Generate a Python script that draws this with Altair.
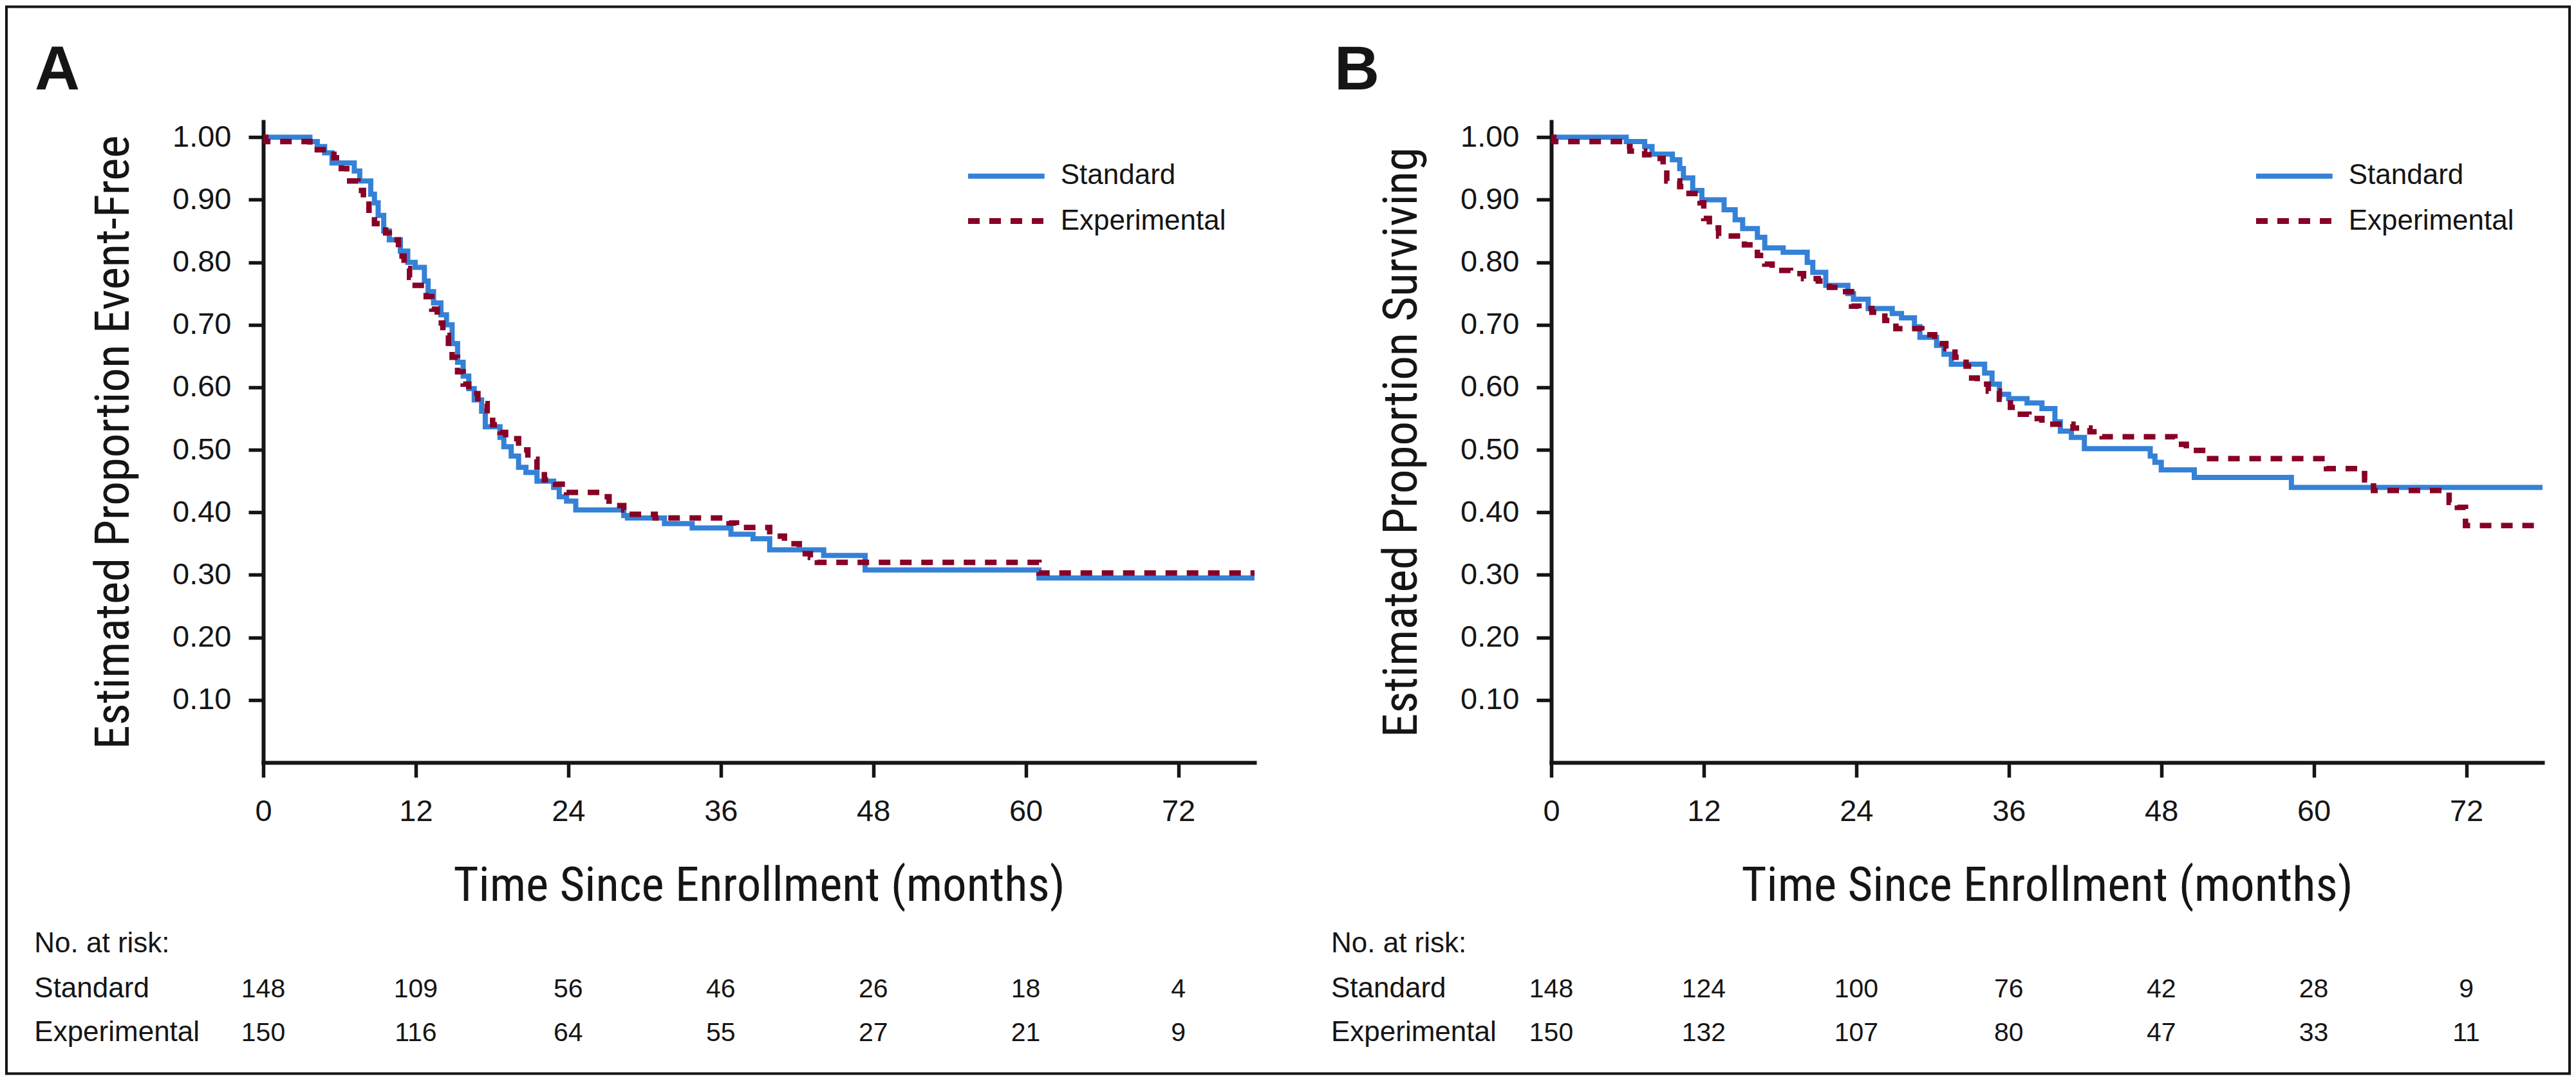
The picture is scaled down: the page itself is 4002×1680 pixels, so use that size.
import altair as alt
import pandas as pd

# ---------------- data ----------------
SERIES = ["Standard", "Experimental"]
MONTH_TICKS = [0, 12, 24, 36, 48, 60, 72]
Y_TICKS = [0.1, 0.2, 0.3, 0.4, 0.5, 0.6, 0.7, 0.8, 0.9, 1.0]
X_TITLE = "Time Since Enrollment (months)"
A_Y_TITLE = "Estimated Proportion Event-Free"
B_Y_TITLE = "Estimated Proportion Surviving"
RISK_HEADER = "No. at risk:"

# Panel A - event-free survival (step points: time in months, proportion)
A_std_t = [0, 3.67, 4.25, 4.83, 5.41, 7.16, 7.59, 8.46, 8.75, 9.04, 9.48, 9.92, 10.79, 11.37,
           11.95, 12.68, 12.97, 13.40, 13.98, 14.42, 14.86, 15.29, 15.73, 16.17, 16.60, 17.18,
           17.47, 18.63, 18.93, 19.51, 20.09, 20.67, 21.54, 22.85, 23.29, 23.87, 24.59, 28.37,
           28.66, 31.57, 33.75, 36.80, 38.54, 39.85, 44.10, 47.36, 61.04, 78]
A_std_s = [1.000, 0.993, 0.985, 0.975, 0.959, 0.946, 0.930, 0.909, 0.895, 0.875, 0.850, 0.836,
           0.818, 0.800, 0.792, 0.770, 0.753, 0.735, 0.716, 0.700, 0.670, 0.640, 0.618, 0.598,
           0.580, 0.562, 0.537, 0.520, 0.505, 0.490, 0.472, 0.464, 0.450, 0.440, 0.425, 0.418,
           0.404, 0.395, 0.391, 0.382, 0.375, 0.365, 0.358, 0.340, 0.331, 0.308, 0.295, 0.295]
A_exp_t = [0, 0.2, 3.67, 4.25, 5.56, 6.14, 6.57, 7.45, 7.88, 8.32, 8.75, 9.63, 9.92, 10.64,
           11.08, 11.51, 11.95, 12.82, 13.26, 13.69, 14.13, 14.57, 14.86, 15.29, 15.73, 16.17,
           16.89, 17.62, 18.05, 18.63, 19.07, 20.09, 20.82, 21.54, 22.12, 23.00, 23.87, 26.48,
           27.21, 28.37, 28.81, 30.84, 36.65, 37.24, 39.85, 41.01, 42.18, 43.05, 43.60, 61.04, 78]
A_exp_s = [1.000, 0.993, 0.987, 0.980, 0.967, 0.950, 0.930, 0.915, 0.893, 0.875, 0.862, 0.847,
           0.836, 0.810, 0.790, 0.776, 0.763, 0.745, 0.725, 0.703, 0.683, 0.665, 0.648, 0.625,
           0.605, 0.590, 0.574, 0.555, 0.540, 0.528, 0.518, 0.500, 0.485, 0.468, 0.452, 0.445,
           0.432, 0.425, 0.411, 0.404, 0.397, 0.391, 0.383, 0.376, 0.362, 0.350, 0.334, 0.328,
           0.320, 0.303, 0.303]
A_std_risk = [148, 109, 56, 46, 26, 18, 4]
A_exp_risk = [150, 116, 64, 55, 27, 21, 9]

# Panel B - overall survival
B_std_t = [0, 5.90, 7.35, 7.93, 9.53, 10.11, 10.40, 11.13, 11.85, 13.60, 14.47, 15.06, 16.22,
           16.80, 18.25, 20.14, 20.58, 21.60, 23.34, 23.78, 24.94, 26.83, 27.56, 28.58, 29.01,
           30.32, 30.90, 31.48, 34.10, 34.68, 35.26, 35.99, 37.44, 38.61, 39.63, 40.06, 40.93,
           41.95, 47.13, 47.50, 48.00, 50.60, 58.24, 78]
B_std_s = [1.000, 0.993, 0.985, 0.973, 0.964, 0.950, 0.935, 0.915, 0.900, 0.884, 0.868, 0.854,
           0.840, 0.823, 0.816, 0.800, 0.784, 0.763, 0.750, 0.741, 0.726, 0.718, 0.711, 0.697,
           0.680, 0.667, 0.653, 0.637, 0.623, 0.605, 0.589, 0.582, 0.575, 0.566, 0.545, 0.530,
           0.520, 0.502, 0.490, 0.480, 0.468, 0.456, 0.440, 0.440]
B_exp_t = [0, 0.2, 5.60, 6.19, 7.35, 8.22, 8.80, 9.09, 10.11, 10.84, 11.71, 12.00, 12.44, 13.17,
           15.20, 16.22, 16.80, 17.38, 18.83, 19.85, 21.01, 21.89, 22.90, 23.63, 24.21, 25.23,
           26.25, 27.12, 29.16, 30.17, 31.05, 31.77, 32.64, 33.08, 33.52, 34.39, 35.26, 36.13,
           36.57, 37.59, 38.61, 41.05, 42.39, 43.35, 49.07, 49.97, 51.52, 61.00, 63.50, 64.00,
           64.70, 70.65, 71.30, 71.94, 78]
B_exp_s = [1.000, 0.993, 0.985, 0.978, 0.972, 0.966, 0.950, 0.930, 0.921, 0.910, 0.895, 0.870,
           0.855, 0.842, 0.828, 0.811, 0.797, 0.787, 0.782, 0.774, 0.770, 0.760, 0.753, 0.730,
           0.726, 0.720, 0.707, 0.694, 0.684, 0.670, 0.662, 0.648, 0.634, 0.615, 0.605, 0.594,
           0.581, 0.568, 0.557, 0.550, 0.541, 0.535, 0.529, 0.521, 0.509, 0.499, 0.486, 0.470,
           0.462, 0.452, 0.435, 0.416, 0.408, 0.379, 0.379]
B_std_risk = [148, 124, 100, 76, 42, 28, 9]
B_exp_risk = [150, 132, 107, 80, 47, 33, 11]

# ---------------- style ----------------
BLUE = "#3481D7"
RED = "#870026"
INK = "#151515"
NARROW = "'Roboto Condensed', 'Liberation Sans Narrow', 'DejaVu Sans Condensed', sans-serif"
SANS = "'Liberation Sans', Arial, sans-serif"
TITLE_SIZE = 75
PW, PH = 1540, 996
XMAX, YMAX = 78, 1.025
DASH = [18, 15]


def curves(std_t, std_s, exp_t, exp_s):
    return pd.DataFrame({
        "time": list(std_t) + list(exp_t),
        "surv": list(std_s) + list(exp_s),
        "series": [SERIES[0]] * len(std_t) + [SERIES[1]] * len(exp_t),
    })


def panel(letter, ytitle, std_t, std_s, exp_t, exp_s, std_risk, exp_risk,
          letter_x, table_x, with_frame):
    xs = alt.Scale(domain=[0, XMAX], nice=False, zero=False)
    ys = alt.Scale(domain=[0, YMAX], nice=False)
    cs = alt.Scale(domain=SERIES, range=[BLUE, RED])
    ds = alt.Scale(domain=SERIES, range=[[1, 0], DASH])
    xaxis = alt.Axis(values=MONTH_TICKS, format="d", title=X_TITLE, labelFlush=False,
                     labelPadding=30.5, titleX=PW / 2, titleY=214.8,
                     titleAlign="center", titleBaseline="alphabetic")
    yaxis = alt.Axis(values=Y_TICKS, format=".2f", title=ytitle, labelPadding=27,
                     titleAngle=270, titleX=-209.5, titleY=PH / 2,
                     titleAlign="center", titleBaseline="alphabetic")

    df = curves(std_t, std_s, exp_t, exp_s)
    enc = dict(
        x=alt.X("time:Q", scale=xs, axis=xaxis),
        y=alt.Y("surv:Q", scale=ys, axis=yaxis),
        color=alt.Color("series:N", scale=cs, legend=None),
        strokeDash=alt.StrokeDash("series:N", scale=ds, legend=None),
    )
    line_std = alt.Chart(df).transform_filter(alt.datum.series == SERIES[0]).mark_line(
        interpolate="step-after", strokeWidth=8).encode(**enc)
    line_exp = alt.Chart(df).transform_filter(alt.datum.series == SERIES[1]).mark_line(
        interpolate="step-after", strokeWidth=8.5).encode(**enc)

    risk = pd.DataFrame({"time": MONTH_TICKS, "std": std_risk, "exp": exp_risk})
    rtxt = dict(font=SANS, fontSize=41, color=INK, align="center", baseline="alphabetic")
    risk_std = alt.Chart(risk).mark_text(**rtxt).encode(
        x=alt.X("time:Q", scale=xs, axis=xaxis), y=alt.value(1360.5), text="std:Q")
    risk_exp = alt.Chart(risk).mark_text(**rtxt).encode(
        x=alt.X("time:Q", scale=xs, axis=xaxis), y=alt.value(1429.2), text="exp:Q")

    one = pd.DataFrame({"k": [0]})
    ltxt = dict(font=SANS, fontSize=44, color=INK, align="left", baseline="alphabetic")
    layers = []
    if with_frame:
        layers.append(alt.Chart(one).mark_rect(filled=False, stroke=INK, strokeWidth=4).encode(
            x=alt.value(-399), x2=alt.value(3583), y=alt.value(-178.5), y2=alt.value(1479.5)))
    layers += [
        line_std, line_exp, risk_std, risk_exp,
        alt.Chart(one).mark_text(text=letter, font=SANS, fontSize=97, fontWeight="bold",
                                 color=INK, align="left", baseline="alphabetic").encode(
            x=alt.value(letter_x), y=alt.value(-50.5)),
        alt.Chart(one).mark_text(text=RISK_HEADER, **ltxt).encode(
            x=alt.value(table_x), y=alt.value(1290.8)),
        alt.Chart(one).mark_text(text=SERIES[0], **ltxt).encode(
            x=alt.value(table_x), y=alt.value(1360.5)),
        alt.Chart(one).mark_text(text=SERIES[1], **ltxt).encode(
            x=alt.value(table_x), y=alt.value(1429.2)),
        # legend
        alt.Chart(one).mark_rule(color=BLUE, strokeWidth=8).encode(
            x=alt.value(1095), x2=alt.value(1213.7), y=alt.value(84.8)),
        alt.Chart(one).mark_rule(color=RED, strokeWidth=9, strokeDash=DASH).encode(
            x=alt.value(1095), x2=alt.value(1213.7), y=alt.value(154.5)),
        alt.Chart(one).mark_text(text=SERIES[0], **ltxt).encode(
            x=alt.value(1238.7), y=alt.value(97.2)),
        alt.Chart(one).mark_text(text=SERIES[1], **ltxt).encode(
            x=alt.value(1238.7), y=alt.value(167.5)),
    ]
    return alt.layer(*layers).properties(width=PW, height=PH)


pA = panel("A", A_Y_TITLE, A_std_t, A_std_s, A_exp_t, A_exp_s, A_std_risk, A_exp_risk,
           -355, -355.7, True)
pB = panel("B", B_Y_TITLE, B_std_t, B_std_s, B_exp_t, B_exp_s, B_std_risk, B_exp_risk,
           -337, -342, False)

chart = alt.hconcat(pA, pB, spacing=461, bounds="flush").properties(
    padding=0, background="white"
).configure_view(stroke=None).configure_axis(
    grid=False,
    domainColor=INK, domainWidth=6, domainCap="square",
    tickColor=INK, tickWidth=5.5, tickSize=23,
    labelFont=SANS, labelFontSize=47, labelColor=INK,
    titleFont=NARROW, titleFontSize=TITLE_SIZE, titleFontWeight="normal", titleColor=INK,
)

chart.save("out.html", embed_options={"renderer": "svg", "actions": False})
